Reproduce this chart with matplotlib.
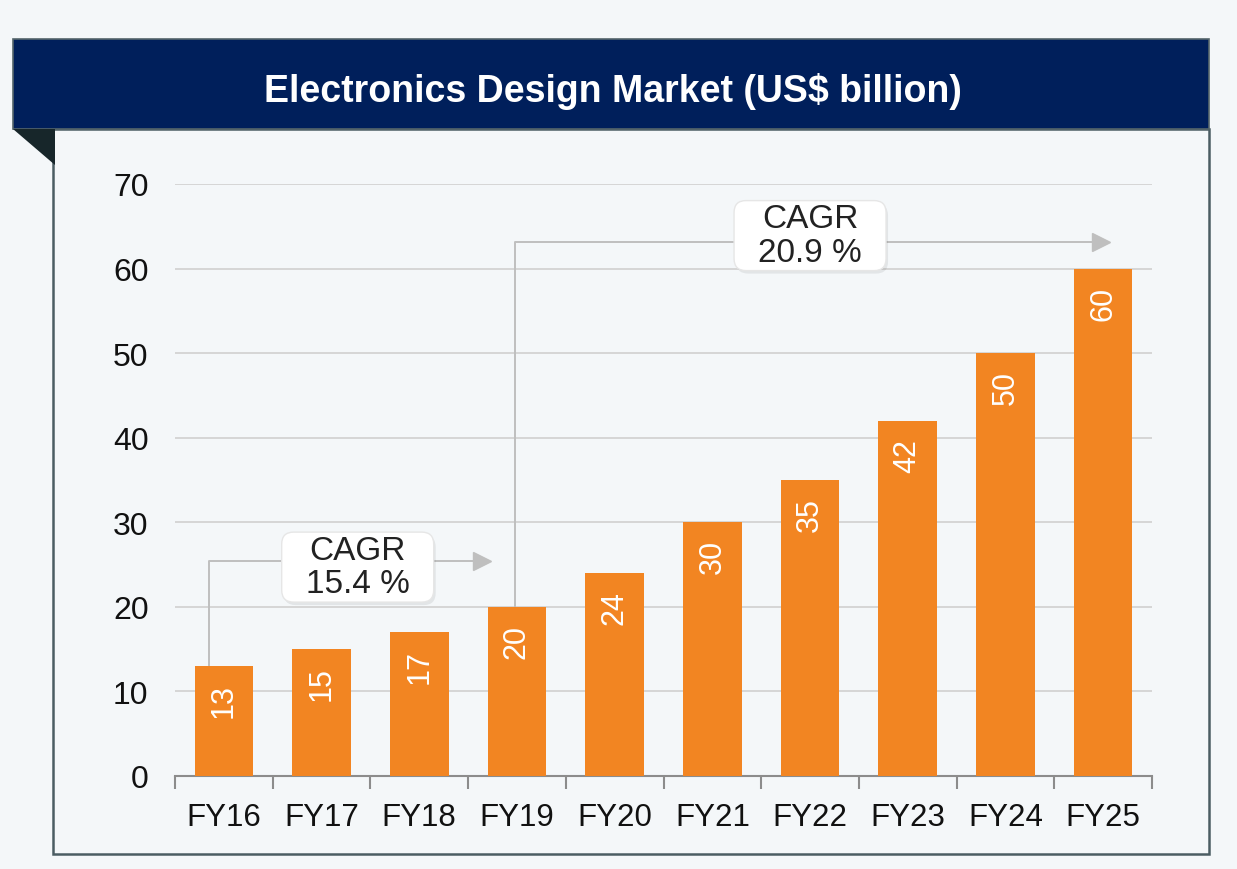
import matplotlib.pyplot as plt
from matplotlib.patches import Rectangle, Polygon, FancyBboxPatch
from matplotlib.transforms import IdentityTransform

plt.rcParams['font.family'] = ['Liberation Sans', 'DejaVu Sans']

years = ['FY16', 'FY17', 'FY18', 'FY19', 'FY20', 'FY21', 'FY22', 'FY23', 'FY24', 'FY25']
market = [13, 15, 17, 20, 24, 30, 35, 42, 50, 60]
cagr_labels = ['CAGR\n15.4 %', 'CAGR\n20.9 %']

W, H = 1237, 870
fig = plt.figure(figsize=(W / 100, H / 100), dpi=100)
fig.patch.set_facecolor('#f4f7f9')


def px(x0, y0, x1, y1):
    # pixel box -> figure fraction rect
    return (x0 / W, 1 - y1 / H, (x1 - x0) / W, (y1 - y0) / H)


# frame and header
x, y, w, h = px(53, 130, 1209, 855)
fig.patches.append(Rectangle((x, y), w, h, transform=fig.transFigure,
                             fc='#f4f7f9', ec='#4b5d63', lw=1.8, zorder=-2))
x, y, w, h = px(13, 40, 1209, 130)
fig.patches.append(Rectangle((x, y), w, h, transform=fig.transFigure,
                             fc='#001f5b', ec='#55656b', lw=1.2, zorder=-1))
fig.patches.append(Polygon([(13 / W, 1 - 130 / H), (55 / W, 1 - 130 / H), (55 / W, 1 - 166 / H)],
                           closed=True, transform=fig.transFigure, fc='#17262a', ec='none', zorder=-1))
fig.text(613 / W, 1 - 91 / H, 'Electronics Design Market (US$ billion)', color='white',
         fontsize=27, fontweight='bold', ha='center', va='center')

ax = fig.add_axes([175 / W, 1 - 777 / H, (1152 - 175) / W, (777 - 185) / H])
ax.set_zorder(5)
ax.set_facecolor('none')
xs = range(len(years))
ax.bar(xs, market, width=0.6, color='#f28522', zorder=3)
for i, v in enumerate(market):
    ax.text(i, v - 2.0, str(v), rotation=90, color='white', fontsize=22,
            ha='center', va='top', zorder=4)

ax.set_xlim(-0.5, len(years) - 0.5)
ax.set_ylim(0, 70)
ax.set_yticks(range(0, 71, 10))
ax.set_xticks(list(xs))
ax.set_xticklabels(years)
ax.set_xticks([i - 0.5 for i in range(len(years) + 1)], minor=True)
ax.tick_params(axis='x', which='major', length=0, pad=19, labelsize=22.5, labelcolor='#111111')
ax.tick_params(axis='x', which='minor', length=9, width=1.5, color='#8c8c8c', direction='out')
ax.tick_params(axis='y', length=0, pad=19, labelsize=23, labelcolor='#111111')
ax.grid(axis='y', color='#d6d6d6', lw=1.4, zorder=0)
for s in ['top', 'right', 'left']:
    ax.spines[s].set_visible(False)
ax.spines['bottom'].set_color('#8c8c8c')
ax.spines['bottom'].set_linewidth(1.5)

# CAGR arrows: start x, bar top, line level, arrow end, box x, box y
arrows = [(-0.15, market[0], 25.4, 2.74, 1.37, 24.7),
          (2.98, market[3], 63.2, 9.08, 6.0, 63.9)]
for (x0, ybar, yl, xend, bx, by), lab in zip(arrows, cagr_labels):
    ax.plot([x0, x0, xend - 0.2], [ybar, yl, yl], color='#bfbfbf', lw=1.4, zorder=2)
    ax.plot([xend - 0.1], [yl], marker='>', color='#bfbfbf', ms=13, zorder=2)
    # box drawn in pixels around the anchor point
    cx, cy = ax.transData.transform((bx, by))
    bw, bh = 152, 70
    for dx, dy, fc, ec, z in [(2, -3, '#00000012', 'none', 5), (0, 0, 'white', '#e6e6e6', 6)]:
        box = FancyBboxPatch((cx - bw / 2 + dx, cy - bh / 2 + dy), bw, bh,
                             boxstyle='round,pad=0,rounding_size=12', transform=IdentityTransform(),
                             fc=fc, ec=ec, lw=1, zorder=z)
        ax.add_artist(box)
    ax.text(bx, by, lab, ha='center', va='center', fontsize=24, color='#222222',
            linespacing=1.1, zorder=7)

fig.savefig('out.png', dpi=100)
